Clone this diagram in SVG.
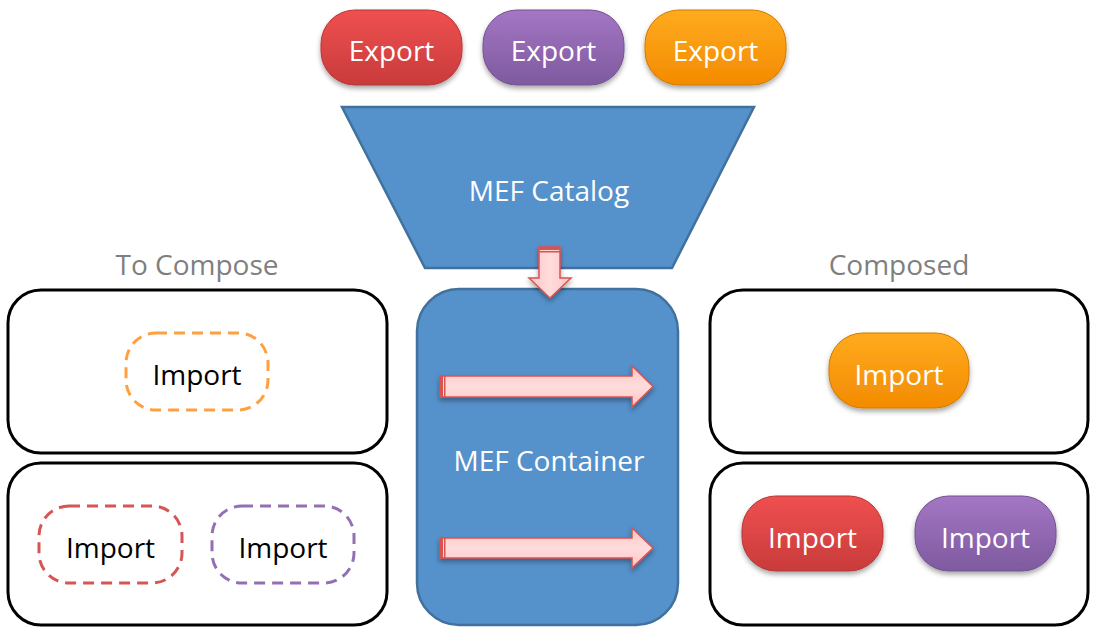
<svg xmlns="http://www.w3.org/2000/svg" width="1101" height="636" viewBox="0 0 1101 636">
<defs>
<linearGradient id="gRed" x1="0" y1="0" x2="0" y2="1"><stop offset="0" stop-color="#ef5050"/><stop offset="1" stop-color="#c93b3b"/></linearGradient>
<linearGradient id="gPur" x1="0" y1="0" x2="0" y2="1"><stop offset="0" stop-color="#a476c4"/><stop offset="1" stop-color="#7e5a9f"/></linearGradient>
<linearGradient id="gOra" x1="0" y1="0" x2="0" y2="1"><stop offset="0" stop-color="#ffab1e"/><stop offset="1" stop-color="#f38b00"/></linearGradient>
<linearGradient id="gPinkH" x1="0" y1="0" x2="0" y2="1"><stop offset="0" stop-color="#ffc4c4"/><stop offset="0.5" stop-color="#ffdcdc"/><stop offset="1" stop-color="#ffc4c4"/></linearGradient>
<linearGradient id="gPinkV" x1="0" y1="0" x2="1" y2="0"><stop offset="0" stop-color="#ffc4c4"/><stop offset="0.5" stop-color="#ffdcdc"/><stop offset="1" stop-color="#ffc4c4"/></linearGradient>
<filter id="sh" x="-20%" y="-20%" width="140%" height="160%"><feDropShadow dx="0" dy="3" stdDeviation="2.5" flood-color="#000" flood-opacity="0.35"/></filter>
</defs>
<style>
text{font-family:"Open Sans","Liberation Sans",sans-serif;font-size:28px;text-anchor:middle}
.w{fill:#fff}
.k{fill:#000}
.g{fill:#7f7f7f}
.pill{stroke-width:1}
.box{fill:#fff;stroke:#000;stroke-width:3}
.dash{fill:none;stroke-width:3;stroke-dasharray:11 7}
.blue{fill:#5591cb;stroke:#41719c;stroke-width:2.5}
.arrow{stroke:#d9534f;stroke-width:1.5}
</style>

<g id="export-red"><rect class="pill" x="321" y="10" width="141" height="75" rx="34" fill="url(#gRed)" stroke="#b83535" filter="url(#sh)"/><text class="w" x="391.5" y="61">Export</text></g>
<g id="export-purple"><rect class="pill" x="483" y="10" width="141" height="75" rx="34" fill="url(#gPur)" stroke="#74528f" filter="url(#sh)"/><text class="w" x="553.5" y="61">Export</text></g>
<g id="export-orange"><rect class="pill" x="645" y="10" width="141" height="75" rx="34" fill="url(#gOra)" stroke="#d07a00" filter="url(#sh)"/><text class="w" x="715.5" y="61">Export</text></g>

<g id="catalog"><polygon class="blue" points="342,107 754,107 672,268 425,268"/><text class="w" x="549" y="201">MEF Catalog</text></g>

<g id="container"><rect class="blue" x="417" y="289" width="261" height="336" rx="42"/><text class="w" x="549" y="471">MEF Container</text></g>

<text class="g" x="197" y="275">To Compose</text>
<text class="g" x="899" y="275">Composed</text>

<g id="to-compose-1"><rect class="box" x="8" y="290" width="379" height="163" rx="33"/>
<g id="import-dashed-orange"><rect class="dash" x="126" y="333" width="142" height="77" rx="30" stroke="#ffa040"/><text class="k" x="197" y="385">Import</text></g></g>

<g id="to-compose-2"><rect class="box" x="8" y="463" width="379" height="162" rx="33"/>
<g id="import-dashed-red"><rect class="dash" x="39" y="506" width="143" height="77" rx="30" stroke="#d65555"/><text class="k" x="110.5" y="558">Import</text></g>
<g id="import-dashed-purple"><rect class="dash" x="212" y="506" width="142" height="77" rx="30" stroke="#9370b5"/><text class="k" x="283" y="558">Import</text></g></g>

<g id="composed-1"><rect class="box" x="710" y="290" width="378" height="163" rx="33"/>
<g id="import-orange"><rect class="pill" x="829" y="333" width="140" height="75" rx="34" fill="url(#gOra)" stroke="#d07a00" filter="url(#sh)"/><text class="w" x="899" y="385">Import</text></g></g>

<g id="composed-2"><rect class="box" x="710" y="463" width="378" height="162" rx="33"/>
<g id="import-red"><rect class="pill" x="742" y="496" width="141" height="75" rx="34" fill="url(#gRed)" stroke="#b83535" filter="url(#sh)"/><text class="w" x="812.5" y="548">Import</text></g>
<g id="import-purple"><rect class="pill" x="915" y="496" width="141" height="75" rx="34" fill="url(#gPur)" stroke="#74528f" filter="url(#sh)"/><text class="w" x="985.5" y="548">Import</text></g></g>

<g id="connectors">
<g filter="url(#sh)">
<path class="arrow" fill="url(#gPinkV)" d="M539,247 H560 V278 H571 L550,298 L529,278 H539 Z"/>
<rect x="539" y="247" width="21" height="3" fill="#d9534f"/><rect x="539" y="251" width="21" height="1.5" fill="#d9534f"/>
<path class="arrow" fill="url(#gPinkH)" d="M440,376 H632 V366 L653,386.5 L632,407 V397 H440 Z"/>
<rect x="440" y="376" width="3" height="21" fill="#d9534f"/><rect x="444" y="376" width="1.5" height="21" fill="#d9534f"/>
<path class="arrow" fill="url(#gPinkH)" d="M440,538 H632 V528 L653,548 L632,568 V558 H440 Z"/>
<rect x="440" y="538" width="3" height="20" fill="#d9534f"/><rect x="444" y="538" width="1.5" height="20" fill="#d9534f"/>
</g>
</g>
</svg>
